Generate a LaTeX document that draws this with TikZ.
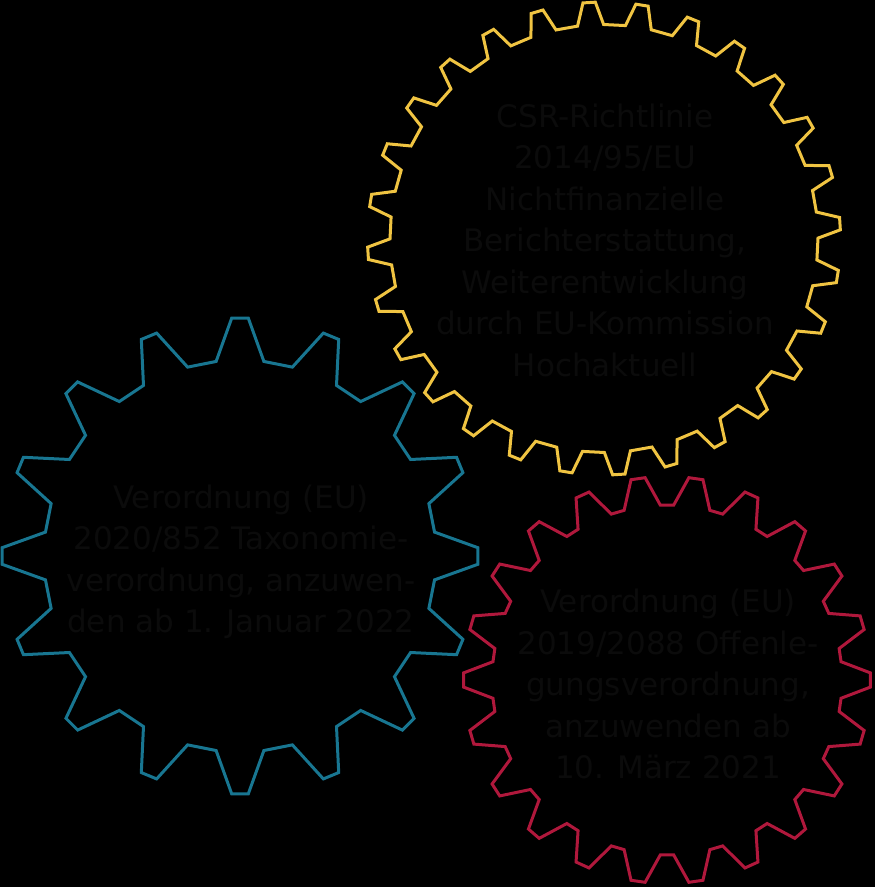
\documentclass[tikz,border=0pt]{standalone}
\usepackage{fontspec}
\setmainfont{DejaVu Sans}
\definecolor{gyellow}{RGB}{240,196,66}
\definecolor{gblue}{RGB}{24,118,145}
\definecolor{gred}{RGB}{176,24,60}
\definecolor{gtext}{RGB}{11,11,11}
% #1 centre, #2 teeth, #3 root radius, #4 tip radius, #5 angle of first tooth,
% #6 half angle of tooth base, #7 half angle of tooth tip, #8 style
\newcommand\drawgear[8]{%
  \begin{scope}[shift={#1}]
    \draw[#8] ({#5-#6}:#3pt)
      \foreach \k in {1,...,#2}{
        -- ({#5+(\k-1)*360/#2-#6}:#3pt)
        -- ({#5+(\k-1)*360/#2-#7}:#4pt)
        -- ({#5+(\k-1)*360/#2+#7}:#4pt)
        -- ({#5+(\k-1)*360/#2+#6}:#3pt)
      } -- cycle;
  \end{scope}}
\begin{document}
\begin{tikzpicture}[x=1pt,y=1pt,
  gearline/.style={line width=3pt,line join=miter},
  geartext/.style={text=gtext,align=center,inner sep=0pt,
    font=\fontsize{31}{41.5}\selectfont}]
\fill[black] (0,0) rectangle (875,887);
\useasboundingbox (0,0) rectangle (875,887);
% yellow gear
\drawgear{(604,648.5)}{28}{214}{236.5}{3.6}{3.5}{1.5}{gearline,draw=gyellow}
% blue gear
\drawgear{(240,331)}{16}{196}{238}{0}{7}{2}{gearline,draw=gblue}
% red gear
\drawgear{(667,207)}{22}{175}{203.5}{0}{6}{2}{gearline,draw=gred}
% texts
\node[geartext] (csr) at (605,647) {CSR-Richtlinie\\2014/95/EU\\Nichtfinanzielle\\Berichterstattung,\\Weiterentwicklung\\durch EU-Kommission\\Hochaktuell};
\node[geartext] (tax) at (241,325) {Verordnung (EU)\\2020/852 Taxonomie-\\verordnung, anzuwen-\\den ab 1. Januar 2022};
\node[geartext] (off) at (668,203) {Verordnung (EU)\\2019/2088 Offenle-\\gungsverordnung,\\anzuwenden ab\\10. März 2021};
\end{tikzpicture}
\end{document}
